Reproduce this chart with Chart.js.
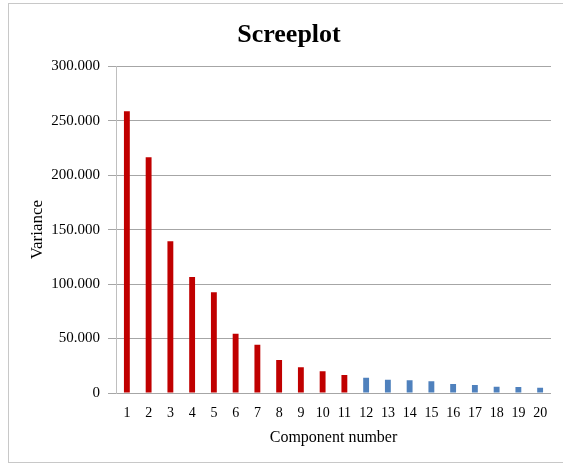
<!DOCTYPE html>
<html>
<head>
<meta charset="utf-8">
<script src="https://cdn.jsdelivr.net/npm/chart.js@4/dist/chart.umd.min.js"></script>
<style>
  html, body { margin: 0; padding: 0; background: #ffffff; overflow: hidden; }
  #frame { position: absolute; left: 8px; top: 3px; width: 560px; height: 460px; border: 1px solid #c8c8c8; box-sizing: border-box; }
  #wrap { position: absolute; left: 0; top: 0; width: 563px; height: 464px; }
</style>
</head>
<body>
<div id="frame"></div>
<div id="wrap"><canvas id="c" width="563" height="464"></canvas></div>
<script>
const components = ['1','2','3','4','5','6','7','8','9','10','11','12','13','14','15','16','17','18','19','20'];
const variance = [258700, 216500, 139400, 106400, 92500, 54400, 44300, 30300, 23600, 19900, 16500, 14000, 12200, 11600, 10700, 8300, 7400, 5800, 5500, 4900];
const retainedComponents = 11;
const yTicks = [0, 50000, 100000, 150000, 200000, 250000, 300000];

const serif = "'Liberation Serif', 'DejaVu Serif', serif";

function fmt(v) {
  return v.toString().replace(/\B(?=(\d{3})+(?!\d))/g, '.');
}

new Chart(document.getElementById('c'), {
  type: 'bar',
  data: {
    labels: components,
    datasets: [{
      label: 'Variance',
      data: variance,
      backgroundColor: ctx => ctx.dataIndex < retainedComponents ? '#C00000' : '#4F81BD',
      borderWidth: 0,
      categoryPercentage: 1.0,
      barPercentage: 0.27
    }]
  },
  options: {
    responsive: false,
    animation: false,
    layout: { padding: { left: 27, right: 12, top: 0, bottom: 17 } },
    plugins: {
      legend: { display: false },
      tooltip: { enabled: false },
      title: {
        display: true,
        text: 'Screeplot',
        color: '#000000',
        font: { family: serif, size: 26, weight: 'bold' },
        padding: { top: 20, bottom: 15 }
      }
    },
    scales: {
      x: {
        afterFit: scale => { scale.height = 54; },
        grid: { display: false, drawTicks: false },
        border: { display: false },
        ticks: { color: '#000000', font: { family: serif, size: 14 }, padding: 12, maxRotation: 0, autoSkip: false },
        title: { display: true, text: 'Component number', color: '#000000', font: { family: serif, size: 16 }, padding: { top: 0, bottom: 0 } }
      },
      y: {
        min: 0,
        max: 300000,
        afterBuildTicks: scale => { scale.ticks = yTicks.map(v => ({ value: v })); },
        afterFit: scale => { scale.width = 89; },
        grid: { color: '#a6a6a6', lineWidth: 1, tickLength: 8, drawTicks: true },
        border: { display: true, color: '#bfbfbf', width: 1 },
        ticks: { color: '#000000', font: { family: serif, size: 15 }, padding: 8, callback: v => fmt(v) },
        title: { display: true, text: 'Variance', color: '#000000', font: { family: serif, size: 17 }, padding: { top: 0, bottom: 4 } }
      }
    }
  }
});
</script>
</body>
</html>
